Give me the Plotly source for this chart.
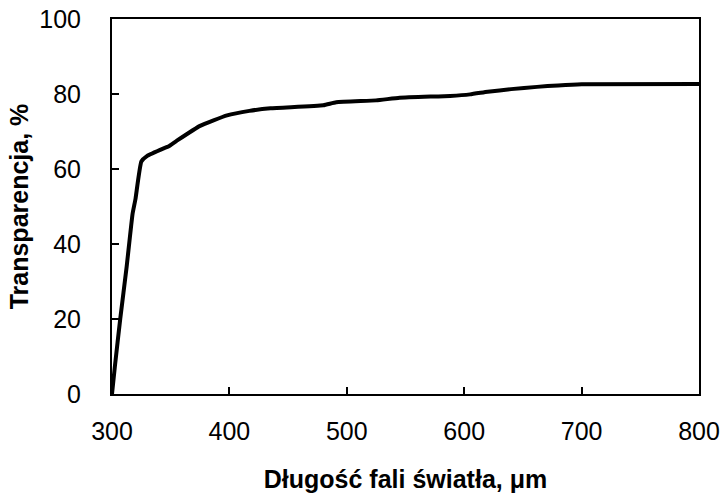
import plotly.graph_objects as go

wavelength = [300, 302.5, 307, 312.5, 317.5, 320, 325, 330, 344, 348, 355, 375, 398,
              417, 435, 480, 491, 525, 545, 588, 605, 620, 640, 662, 680, 700, 800]
transparency = [0, 7.5, 20, 34, 48, 52, 62, 63.5, 65.5, 66, 67.5, 71.5, 74.3,
                75.5, 76.2, 77, 77.8, 78.3, 79, 79.5, 79.9, 80.6, 81.3, 81.9, 82.3, 82.6, 82.7]

x_ticks = [300, 400, 500, 600, 700, 800]
y_ticks = [0, 20, 40, 60, 80, 100]

FONT = "Liberation Sans, Arial, sans-serif"

fig = go.Figure()
fig.add_trace(go.Scatter(
    x=wavelength, y=transparency, mode="lines",
    line=dict(color="black", width=4, shape="spline", smoothing=0.4),
    showlegend=False,
))

fig.update_layout(
    width=721, height=498,
    margin=dict(l=112, r=22, t=19, b=104),
    paper_bgcolor="white", plot_bgcolor="white",
    font=dict(family=FONT, color="black", size=24),
)
fig.update_xaxes(
    range=[300, 800], tickvals=x_ticks, ticktext=[str(v) for v in x_ticks],
    automargin=False,
    showgrid=False, zeroline=False,
    showline=True, linecolor="black", linewidth=2, mirror=True,
    ticks="inside", ticklen=7, tickwidth=2, tickcolor="black",
    ticklabelstandoff=14,
    tickfont=dict(size=25, family=FONT),
    title=dict(text="<b>Długość fali światła, μm</b>", font=dict(size=25, family=FONT), standoff=26),
)
fig.update_yaxes(
    range=[0, 100], tickvals=y_ticks, ticktext=[str(v) for v in y_ticks],
    automargin=False,
    showgrid=False, zeroline=False,
    showline=True, linecolor="black", linewidth=2, mirror=True,
    ticks="inside", ticklen=7, tickwidth=2, tickcolor="black",
    ticklabelstandoff=24,
    tickfont=dict(size=25, family=FONT),
    title=dict(text="<b>Transparencja, %</b>", font=dict(size=25, family=FONT), standoff=4),
)

fig.write_html("out.html")
